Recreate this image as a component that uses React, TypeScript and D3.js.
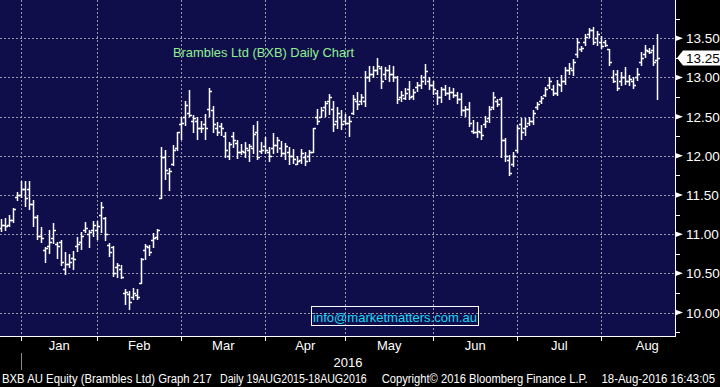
import React from "react";
import * as d3 from "d3";

// ---- data ----
const months = ["Jan", "Feb", "Mar", "Apr", "May", "Jun", "Jul", "Aug"];
const monthTradingDays = [19, 21, 21, 20, 22, 21, 21, 23];
const decBars = 6;
const yTickValues = [10.0, 10.5, 11.0, 11.5, 12.0, 12.5, 13.0, 13.5];
const yMinorValues = [9.75, 10.25, 10.75, 11.25, 11.75, 12.25, 12.75, 13.25, 13.75];
const lastPrice = 13.25;

const highs = [
  11.19, 11.2, 11.25, 11.33, 11.54, 11.68, 11.68, 11.68, 11.43, 11.24, 11.09, 10.83, 11.05, 11.14, 10.9, 10.92, 10.77, 10.75, 10.79, 10.96,
  11.03, 11.15, 11.05, 11.17, 11.17, 11.41, 11.22, 10.89, 10.85, 10.63, 10.61, 10.3, 10.27, 10.31, 10.3, 10.7, 10.87, 10.86, 11.02, 11.07,
  12.11, 12.07, 11.84, 12.14, 12.31, 12.49, 12.7, 12.84, 12.52, 12.49, 12.45, 12.53, 12.87, 12.64, 12.43, 12.42, 12.3, 12.17, 12.3, 12.2,
  12.15, 12.17, 12.15, 12.39, 12.44, 12.17, 12.24, 12.11, 12.29, 12.24, 12.19, 12.16, 12.11, 12.09, 12.0, 12.09, 12.05, 12.08, 12.35, 12.6,
  12.62, 12.7, 12.79, 12.7, 12.62, 12.58, 12.53, 12.51, 12.77, 12.81, 12.79, 13.08, 13.15, 13.15, 13.25, 13.15, 13.13, 13.16, 13.15, 13.02,
  12.83, 12.87, 12.96, 12.85, 12.94, 13.03, 13.17, 13.0, 12.96, 12.84, 12.88, 12.9, 12.88, 12.86, 12.82, 12.8, 12.63, 12.69, 12.46, 12.43,
  12.39, 12.51, 12.63, 12.82, 12.73, 12.75, 12.23, 12.01, 12.05, 12.39, 12.48, 12.48, 12.5, 12.58, 12.69, 12.76, 12.88, 13.0, 12.9, 12.97,
  13.03, 13.14, 13.18, 13.24, 13.5, 13.4, 13.56, 13.63, 13.64, 13.59, 13.53, 13.48, 13.36, 13.09, 13.09, 13.07, 13.14, 13.03, 13.01, 13.12,
  13.33, 13.41, 13.38, 13.41, 13.56,
];
const lows = [
  11.04, 11.05, 11.11, 11.15, 11.43, 11.47, 11.36, 11.32, 11.11, 10.94, 10.9, 10.64, 10.76, 10.89, 10.69, 10.6, 10.49, 10.58, 10.55, 10.79,
  10.81, 11.03, 10.84, 10.98, 10.94, 11.03, 10.92, 10.72, 10.47, 10.45, 10.44, 10.11, 10.05, 10.17, 10.17, 10.38, 10.68, 10.74, 10.84, 10.94,
  11.46, 11.71, 11.56, 11.88, 12.07, 12.21, 12.39, 12.51, 12.3, 12.21, 12.3, 12.21, 12.51, 12.31, 12.26, 12.26, 11.99, 11.96, 12.11, 11.97,
  12.02, 11.99, 11.93, 12.03, 11.96, 12.03, 12.03, 11.94, 12.03, 12.05, 12.0, 11.96, 11.9, 11.91, 11.9, 11.91, 11.88, 11.94, 12.05, 12.41,
  12.49, 12.51, 12.53, 12.32, 12.36, 12.34, 12.4, 12.25, 12.53, 12.6, 12.66, 12.64, 12.96, 13.0, 13.04, 12.87, 12.98, 12.96, 12.96, 12.67,
  12.7, 12.72, 12.72, 12.72, 12.83, 12.87, 12.92, 12.85, 12.79, 12.66, 12.69, 12.77, 12.73, 12.75, 12.67, 12.52, 12.51, 12.38, 12.29, 12.24,
  12.21, 12.37, 12.43, 12.6, 12.63, 11.99, 11.94, 11.76, 11.87, 12.05, 12.22, 12.26, 12.39, 12.41, 12.6, 12.68, 12.76, 12.86, 12.77, 12.77,
  12.83, 12.92, 13.05, 13.03, 13.26, 13.34, 13.41, 13.52, 13.43, 13.41, 13.38, 13.4, 13.16, 12.94, 12.84, 12.91, 12.92, 12.9, 12.86, 12.97,
  13.16, 13.26, 13.31, 13.16, 12.72,
];
const opens = [
  11.08, 11.12, 11.12, 11.18, 11.47, 11.5, 11.58, 11.58, 11.38, 11.22, 10.98, 10.8, 10.85, 10.95, 10.88, 10.9, 10.55, 10.62, 10.7, 10.85,
  10.9, 11.05, 11.0, 11.05, 11.05, 11.25, 11.2, 10.86, 10.84, 10.58, 10.55, 10.25, 10.23, 10.2, 10.22, 10.38, 10.8, 10.84, 10.93, 10.96,
  11.46, 11.99, 11.78, 11.9, 12.1, 12.4, 12.5, 12.55, 12.45, 12.45, 12.35, 12.4, 12.6, 12.58, 12.35, 12.38, 12.25, 12.0, 12.25, 12.16,
  12.05, 12.05, 12.08, 12.1, 12.3, 12.06, 12.12, 12.05, 12.1, 12.14, 12.1, 12.04, 12.05, 12.0, 11.9, 11.95, 11.98, 12.0, 12.05, 12.5,
  12.5, 12.62, 12.7, 12.6, 12.45, 12.5, 12.45, 12.42, 12.55, 12.7, 12.7, 12.7, 13.0, 13.05, 13.1, 13.12, 13.05, 13.1, 13.05, 13.0,
  12.75, 12.74, 12.85, 12.76, 12.88, 12.9, 13.0, 12.96, 12.9, 12.8, 12.75, 12.85, 12.8, 12.82, 12.78, 12.72, 12.58, 12.6, 12.32, 12.3,
  12.3, 12.4, 12.48, 12.62, 12.7, 12.72, 12.2, 11.95, 11.9, 12.08, 12.4, 12.35, 12.42, 12.45, 12.62, 12.7, 12.78, 12.9, 12.85, 12.8,
  12.9, 12.95, 13.1, 13.1, 13.3, 13.36, 13.45, 13.55, 13.6, 13.5, 13.45, 13.45, 13.36, 13.0, 13.05, 12.95, 13.0, 12.95, 12.95, 13.0,
  13.2, 13.3, 13.34, 13.35, 13.22,
];
const closes = [
  11.12, 11.1, 11.18, 11.32, 11.5, 11.58, 11.46, 11.38, 11.22, 10.98, 10.95, 10.82, 10.9, 11.05, 10.85, 10.65, 10.62, 10.65, 10.68, 10.88,
  10.98, 11.08, 11.03, 11.12, 11.1, 11.35, 11.0, 10.77, 10.5, 10.6, 10.45, 10.26, 10.14, 10.25, 10.2, 10.68, 10.85, 10.77, 10.95, 11.05,
  11.99, 11.82, 11.8, 12.08, 12.3, 12.42, 12.65, 12.52, 12.48, 12.35, 12.36, 12.35, 12.83, 12.4, 12.3, 12.36, 12.07, 12.15, 12.2, 12.05,
  12.06, 12.1, 12.12, 12.28, 11.98, 12.07, 12.07, 12.0, 12.14, 12.2, 12.04, 12.12, 12.0, 11.96, 11.93, 12.04, 11.94, 12.05, 12.35, 12.45,
  12.58, 12.68, 12.75, 12.4, 12.55, 12.4, 12.42, 12.45, 12.72, 12.66, 12.75, 13.0, 13.05, 13.1, 13.15, 12.95, 13.1, 13.05, 13.0, 12.72,
  12.78, 12.8, 12.75, 12.82, 12.9, 12.95, 13.08, 12.9, 12.85, 12.75, 12.85, 12.8, 12.82, 12.78, 12.72, 12.58, 12.6, 12.42, 12.3, 12.32,
  12.27, 12.45, 12.6, 12.75, 12.66, 12.2, 12.0, 11.78, 12.0, 12.35, 12.3, 12.38, 12.45, 12.55, 12.66, 12.74, 12.85, 12.95, 12.8, 12.92,
  12.95, 13.1, 13.12, 13.2, 13.45, 13.38, 13.52, 13.6, 13.45, 13.55, 13.4, 13.42, 13.2, 12.96, 12.86, 13.0, 12.95, 12.98, 12.9, 13.05,
  13.25, 13.35, 13.33, 13.2, 13.25,
];

// ---- layout ----
const W = 720;
const H = 387;
const plotRight = 675;
const plotBottom = 336;
const navy = "#0f0e4b";

export default function App() {
  const n = highs.length;
  const x = d3.scaleLinear().domain([0, n - 1]).range([1.3, 657.3]);
  const y = d3.scaleLinear().domain([10, 13.5]).range([312.5, 38.3]);
  const step = x(1) - x(0);
  const ry = (v: number) => Math.round(y(v)) + 0.5;

  const starts: number[] = [];
  let acc = decBars;
  monthTradingDays.forEach((d) => {
    starts.push(acc);
    acc += d;
  });
  const gridXs = starts.map((s) => Math.round(x(s - 1)) + 0.5);

  const bars = highs.map((h, i) => {
    const cx = Math.round(x(i)) + 0.5;
    return (
      <g key={i} stroke="#ffffff" strokeWidth={1.5}>
        <line x1={cx} x2={cx} y1={Math.round(y(h))} y2={Math.round(y(lows[i])) + 1} />
        <line x1={cx - 2.5} x2={cx} y1={ry(opens[i])} y2={ry(opens[i])} />
        <line x1={cx} x2={cx + 2.5} y1={ry(closes[i])} y2={ry(closes[i])} />
      </g>
    );
  });

  const ly = y(lastPrice);

  return (
    <div style={{ position: "fixed", left: 0, top: 0 }}>
      <svg width={W} height={H} style={{ display: "block", background: "#000" }}
        fontFamily="'Liberation Sans', Arial, sans-serif">
        <rect x={0} y={0} width={plotRight} height={plotBottom} fill={navy} />
        {yTickValues.map((v) => (
          <line key={"hg" + v} x1={0} x2={plotRight} y1={ry(v)} y2={ry(v)}
            stroke="#9a9aa8" strokeWidth={1} strokeDasharray="2,2" />
        ))}
        {gridXs.map((gx, i) => (
          <line key={"vg" + i} x1={gx} x2={gx} y1={0} y2={plotBottom}
            stroke="#9a9aa8" strokeWidth={1} strokeDasharray="2,2" />
        ))}
        <text x={173} y={57} fill="#8ff08f" fontSize={13} textLength={181} lengthAdjust="spacingAndGlyphs">
          Brambles Ltd (BXB) Daily Chart
        </text>
        {bars}
        <rect x={311.5} y={306.5} width={167} height={19} fill="none" stroke="#ffffff" strokeWidth={1} />
        <text x={313} y={321.5} fill="#19d9f5" fontSize={13} textLength={164} lengthAdjust="spacingAndGlyphs">
          info@marketmatters.com.au
        </text>
        <line x1={0} x2={plotRight + 1} y1={plotBottom + 0.5} y2={plotBottom + 0.5} stroke="#fff" strokeWidth={1} />
        <line x1={plotRight + 0.5} x2={plotRight + 0.5} y1={0} y2={plotBottom} stroke="#fff" strokeWidth={1} />
        {yMinorValues.map((v) => (
          <line key={"mt" + v} x1={plotRight} x2={plotRight + 5} y1={ry(v)} y2={ry(v)}
            stroke="#fff" strokeWidth={1} />
        ))}
        {yTickValues.map((v) => {
          const ty = y(v);
          return (
            <g key={"yt" + v}>
              <polygon points={`${plotRight},${ty - 3} ${plotRight + 8},${ty} ${plotRight},${ty + 3}`} fill="#fff" />
              <text x={686} y={ty + 5} fill="#ffffff" fontSize={13.5}>{v.toFixed(2)}</text>
            </g>
          );
        })}
        <polygon points={`${plotRight + 2},${ly} ${plotRight + 8},${ly - 7.5} ${W},${ly - 7.5} ${W},${ly + 7.5} ${plotRight + 8},${ly + 7.5}`}
          fill="#ffffff" />
        <text x={686} y={ly + 5} fill="#000" fontSize={13.5}>{lastPrice.toFixed(2)}</text>
        {gridXs.map((gx, i) => (
          <line key={"bt" + i} x1={gx} x2={gx} y1={plotBottom} y2={plotBottom + 5} stroke="#fff" strokeWidth={1} />
        ))}
        {months.map((m, i) => (
          <text key={m} x={x(starts[i] - 1) + (monthTradingDays[i] * step) / 2} y={350} fill="#fff" fontSize={13}
            textAnchor="middle">{m}</text>
        ))}
        <line x1={gridXs[0]} x2={gridXs[0]} y1={353} y2={370} stroke="#8a8a8a" strokeWidth={1} />
        <text x={348} y={366.5} fill="#fff" fontSize={13} textAnchor="middle">2016</text>
        <g fill="#ffffff" fontSize={12}>
          <text x={2} y={383} textLength={209.7} lengthAdjust="spacingAndGlyphs">BXB AU Equity (Brambles Ltd) Graph 217</text>
          <text x={220} y={383} textLength={146.7} lengthAdjust="spacingAndGlyphs">Daily 19AUG2015-18AUG2016</text>
          <text x={381.7} y={383} textLength={206} lengthAdjust="spacingAndGlyphs">Copyright© 2016 Bloomberg Finance L.P.</text>
          <text x={601.5} y={383} textLength={113.5} lengthAdjust="spacingAndGlyphs">18-Aug-2016 16:43:05</text>
        </g>
      </svg>
    </div>
  );
}
